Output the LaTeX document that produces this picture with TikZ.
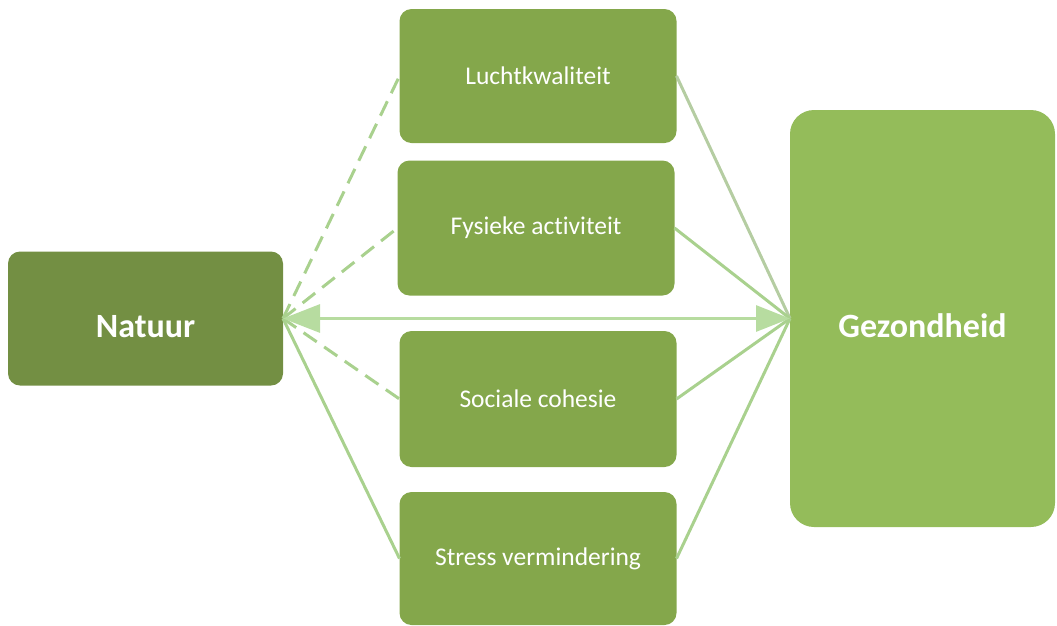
\documentclass[tikz,border=0pt]{standalone}
\usepackage{fontspec}
\setmainfont[Ligatures=NoCommon]{Carlito}
\usetikzlibrary{arrows.meta}
\definecolor{natuurc}{HTML}{738F43}
\definecolor{midc}{HTML}{84A74B}
\definecolor{gezc}{HTML}{94BC5A}
\definecolor{linec}{HTML}{A9D18E}
\definecolor{linegray}{HTML}{B5CDA2}
\definecolor{arrowc}{HTML}{B7DCA0}
\tikzset{
  box/.style={rectangle, rounded corners=12pt, inner sep=0pt, outer sep=0pt, text=white, align=center},
  midbox/.style={box, fill=midc, minimum width=277pt, minimum height=134pt, font=\fontsize{25.5}{30}\selectfont},
  bigtext/.style={font=\fontsize{34}{40}\selectfont\bfseries},
  conn/.style={draw=linec, line width=3pt},
  dconn/.style={conn, dash pattern=on 16pt off 9pt},
}
\begin{document}
\begin{tikzpicture}[x=1pt,y=-1pt]
\useasboundingbox (0,0) rectangle (1057,625);
\node[box, fill=natuurc, minimum width=275pt, minimum height=134pt, bigtext] (natuur) at (145.5,318.5) {\raisebox{-19pt}[0pt][0pt]{Natuur}};
\node[box, fill=gezc, rounded corners=24pt, minimum width=265pt, minimum height=417pt, bigtext] (gez) at (922.5,318.5) {\raisebox{-19pt}[0pt][0pt]{Gezondheid}};
\node[midbox] (lucht) at (538,76) {Luchtkwaliteit};
\node[midbox, minimum height=135pt] (fys) at (536,228) {Fysieke activiteit};
\node[midbox, minimum height=136pt] (soc) at (538,399) {Sociale cohesie};
\node[midbox, minimum height=133pt] (stress) at (538,558.5) {Stress vermindering};
\draw[dconn] (natuur.east) -- (lucht.west);
\draw[dconn] (natuur.east) -- (fys.west);
\draw[dconn] (natuur.east) -- (soc.west);
\draw[conn] (natuur.east) -- (stress.west);
\draw[conn, draw=linegray] (lucht.east) -- (gez.west);
\draw[conn] (fys.east) -- (gez.west);
\draw[conn] (soc.east) -- (gez.west);
\draw[conn] (stress.east) -- (gez.west);
\draw[draw=arrowc, line width=3pt, {Triangle[length=37pt,width=28pt]}-{Triangle[length=34pt,width=26pt]}] (natuur.east) -- (gez.west);
\end{tikzpicture}
\end{document}
